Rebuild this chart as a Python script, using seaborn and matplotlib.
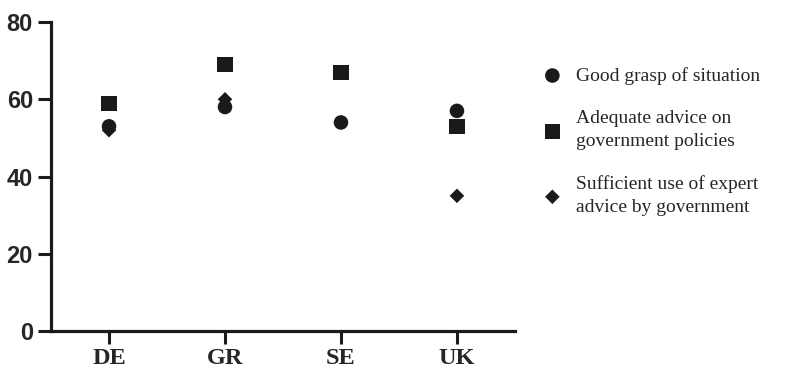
import pandas as pd
import numpy as np
import matplotlib
matplotlib.use("Agg")
import matplotlib.pyplot as plt
import seaborn as sns

countries = ["DE", "GR", "SE", "UK"]
good_grasp = [53, 58, 54, 57]
adequate_advice = [59, 69, 67, 53]
expert_use = [52, 60, np.nan, 35]

labels = ["Good grasp of situation",
          "Adequate advice on\ngovernment policies",
          "Sufficient use of expert\nadvice by government"]

df = pd.DataFrame({
    "country": countries * 3,
    "value": good_grasp + adequate_advice + expert_use,
    "measure": [labels[0]] * 4 + [labels[1]] * 4 + [labels[2]] * 4,
}).dropna()

sns.set_style("ticks")

fig = plt.figure(figsize=(7.91, 3.70), dpi=100)
ax = fig.add_axes([0.0645, 0.1054, 0.5865, 0.835])

markers = {labels[0]: "o", labels[1]: "s", labels[2]: "D"}
sizes = {labels[0]: 110, labels[1]: 120, labels[2]: 55}
for lab in labels:
    sub = df[df["measure"] == lab]
    sns.scatterplot(data=sub, x="country", y="value", marker=markers[lab],
                    s=sizes[lab], color="#1a1a1a", edgecolor="none",
                    label=lab, ax=ax, clip_on=False, zorder=3)

ax.set_xlim(-0.5, 3.5)
ax.set_ylim(0, 80)
ax.set_yticks([0, 20, 40, 60, 80])
ax.set_xlabel("")
ax.set_ylabel("")
for side in ["top", "right"]:
    ax.spines[side].set_visible(False)
for side in ["left", "bottom"]:
    ax.spines[side].set_linewidth(2.3)
    ax.spines[side].set_color("#1a1a1a")
ax.tick_params(axis="both", width=2.2, length=9.5, color="#1a1a1a")
ax.tick_params(axis="x", pad=3)

for t in ax.get_yticklabels():
    t.set_fontfamily("Liberation Sans")
    t.set_fontweight("bold")
    t.set_fontsize(17)
for t in ax.get_xticklabels():
    t.set_fontfamily("Liberation Serif")
    t.set_fontweight("bold")
    t.set_fontsize(17.5)

handles, labs = ax.get_legend_handles_labels()
leg = ax.legend(handles, labs, loc="upper left", bbox_to_anchor=(1.022, 0.912),
                frameon=False, handlelength=1.0, handletextpad=0.7, labelspacing=1.3,
                prop={"family": "Liberation Serif", "size": 14})
for t in leg.get_texts():
    t.set_linespacing(1.45)

fig.savefig("out.png", dpi=100)
